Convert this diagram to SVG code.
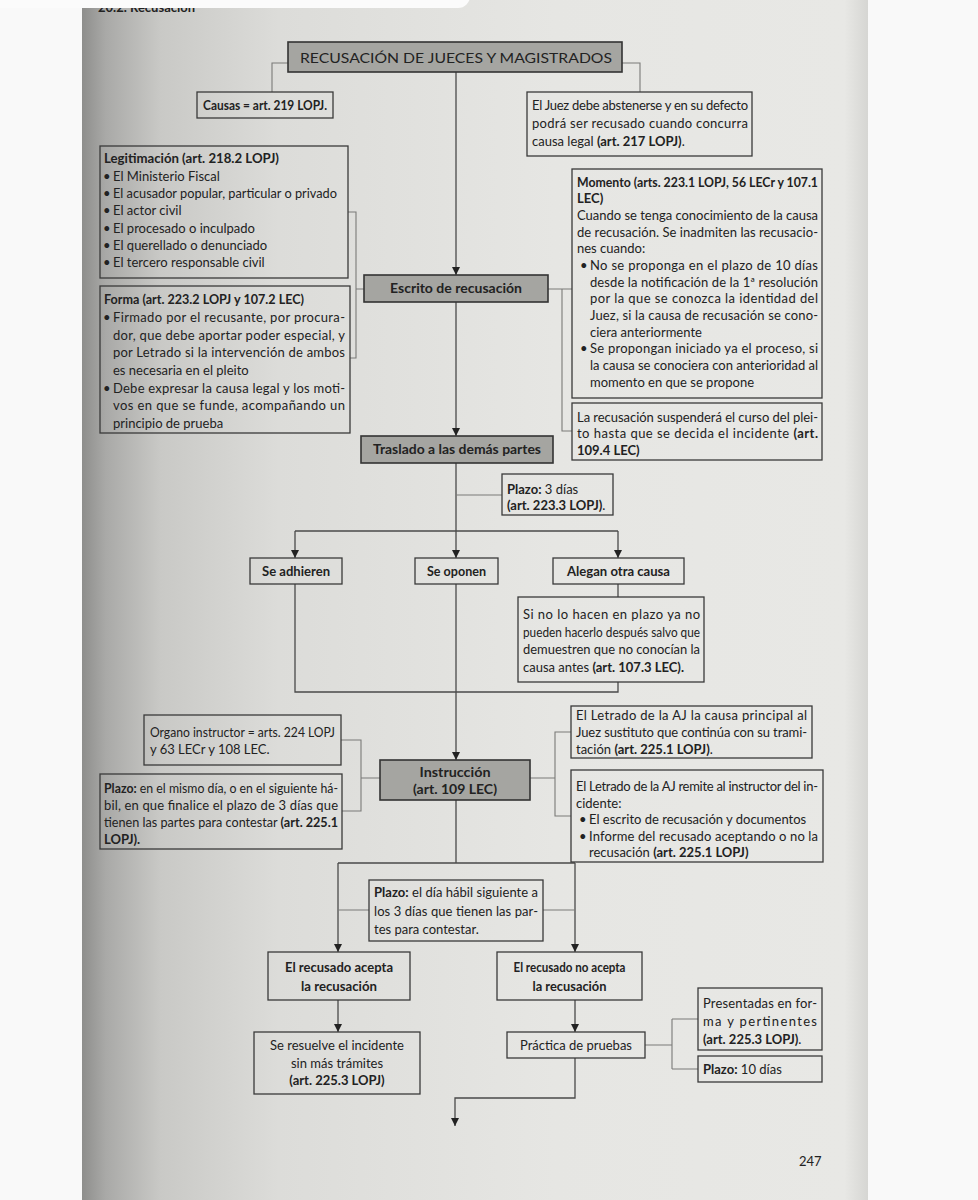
<svg xmlns="http://www.w3.org/2000/svg" width="978" height="1200" viewBox="0 0 978 1200">
<defs>
<linearGradient id="pg" x1="82" y1="0" x2="868" y2="0" gradientUnits="userSpaceOnUse">
<stop offset="0" stop-color="#8e8e8c"/>
<stop offset="0.03" stop-color="#a9a9a7"/>
<stop offset="0.1" stop-color="#c9c9c6"/>
<stop offset="0.25" stop-color="#dcdcd9"/>
<stop offset="0.6" stop-color="#e6e6e3"/>
<stop offset="0.97" stop-color="#e8e8e5"/>
<stop offset="1" stop-color="#d6d6d3"/>
</linearGradient>
<marker id="ah" viewBox="0 0 10 10" refX="10" refY="5" markerWidth="8" markerHeight="8" markerUnits="userSpaceOnUse" orient="auto">
<path d="M0,0 L10,5 L0,10 z" fill="#222"/>
</marker>
<style>
text{font-family:Lato,"Open Sans","DejaVu Sans",sans-serif;font-size:13px;fill:#222}
.b{font-weight:700}
.m{text-anchor:middle}
.bx{fill:none;stroke:#3a3a3a;stroke-width:1.3}
.gb{fill:#a5a5a1;stroke:#333;stroke-width:1.6}
.c{fill:none;stroke:#4a4a4a;stroke-width:1.3}
.cl{fill:none;stroke:#7a7a78;stroke-width:1.1}
.a{marker-end:url(#ah)}
</style>
</defs>

<rect x="0" y="0" width="978" height="1200" fill="#f9f9f9"/>
<rect x="82" y="0" width="786" height="1200" fill="url(#pg)"/>
<text x="98" y="12" class="b" font-size="13">20.2.   Recusación</text>
<rect x="-20" y="-20" width="490" height="28" rx="12" fill="#fbfbfb"/>

<g id="connectors">
<path class="c a" d="M456,72 V275"/>
<path class="cl" d="M288,63 H272 V92"/>
<path class="cl" d="M622,63 H640 V92"/>
<path class="cl" d="M348,212 H356 V358 H350 M356,289 H364"/>
<path class="cl" d="M548,289 H572 M562,289 V431 H572"/>
<path class="c a" d="M456,302 V436"/>
<path class="c a" d="M456,463 V558"/>
<path class="c" d="M295,531 H618"/>
<path class="c a" d="M295,531 V558"/>
<path class="c a" d="M618,531 V558"/>
<path class="cl" d="M456,495 H502"/>
<path class="c" d="M618,584 V597"/>
<path class="c" d="M618,682 V692 H295 V584"/>
<path class="c a" d="M456,584 V760"/>
<path class="cl" d="M341,740 H361 V811 H342 M361,778 H380"/>
<path class="cl" d="M530,778 H555 M571,732 H555 V816 H571"/>
<path class="c" d="M456,800 V863 M338,863 H575"/>
<path class="c a" d="M338,863 V952"/>
<path class="c a" d="M575,863 V952"/>
<path class="cl" d="M338,910 H369 M543,910 H575"/>
<path class="c a" d="M338,1000 V1032"/>
<path class="c a" d="M575,1000 V1032"/>
<path class="cl" d="M645,1045 H672 M672,1019 V1069 M672,1019 H698 M672,1069 H698"/>
<path class="c a" d="M575,1058 V1098 H455 V1126"/>
</g>

<g id="title">
<rect class="gb" x="288" y="42" width="334" height="30"/>
<text class="m" x="456" y="63" font-size="15.5" textLength="312" lengthAdjust="spacingAndGlyphs">RECUSACIÓN DE JUECES Y MAGISTRADOS</text>
</g>

<g id="causas">
<rect class="bx" x="197" y="92" width="136" height="26"/>
<text x="203" y="110" class="b" textLength="124" lengthAdjust="spacingAndGlyphs">Causas = art. 219 LOPJ.</text>
</g>

<g id="juez">
<rect class="bx" x="527" y="92" width="225" height="64"/>
<text x="532" y="110" textLength="216">El Juez debe abstenerse y en su defecto</text>
<text x="532" y="128" textLength="216">podrá ser recusado cuando concurra</text>
<text x="532" y="146">causa legal <tspan class="b">(art. 217 LOPJ)</tspan>.</text>
</g>

<g id="legitimacion">
<rect class="bx" x="100" y="146" width="248" height="132"/>
<text x="104" y="163" class="b" textLength="175" lengthAdjust="spacingAndGlyphs">Legitimación (art. 218.2 LOPJ)</text>
<text x="103" y="181">•</text><text x="113" y="181">El Ministerio Fiscal</text>
<text x="103" y="198">•</text><text x="113" y="198" textLength="224" lengthAdjust="spacingAndGlyphs">El acusador popular, particular o privado</text>
<text x="103" y="215">•</text><text x="113" y="215">El actor civil</text>
<text x="103" y="233">•</text><text x="113" y="233">El procesado o inculpado</text>
<text x="103" y="250">•</text><text x="113" y="250">El querellado o denunciado</text>
<text x="103" y="267">•</text><text x="113" y="267">El tercero responsable civil</text>
</g>

<g id="forma">
<rect class="bx" x="100" y="286" width="250" height="147"/>
<text x="104" y="304" class="b" textLength="200" lengthAdjust="spacingAndGlyphs">Forma (art. 223.2 LOPJ y 107.2 LEC)</text>
<text x="103" y="322">•</text><text x="113" y="322" textLength="232">Firmado por el recusante, por procura-</text>
<text x="113" y="339.5" textLength="232">dor, que debe aportar poder especial, y</text>
<text x="113" y="357" textLength="232">por Letrado si la intervención de ambos</text>
<text x="113" y="375">es necesaria en el pleito</text>
<text x="103" y="392.5">•</text><text x="113" y="392.5" textLength="232">Debe expresar la causa legal y los moti-</text>
<text x="113" y="410" textLength="232">vos en que se funde, acompañando un</text>
<text x="113" y="428">principio de prueba</text>
</g>

<g id="momento">
<rect class="bx" x="572" y="169" width="250" height="229"/>
<text x="577" y="186.5" class="b" textLength="241" lengthAdjust="spacingAndGlyphs">Momento (arts. 223.1 LOPJ, 56 LECr y 107.1</text>
<text x="577" y="203" class="b">LEC)</text>
<text x="577" y="220" textLength="241">Cuando se tenga conocimiento de la causa</text>
<text x="577" y="236.5" textLength="241">de recusación. Se inadmiten las recusacio-</text>
<text x="577" y="253">nes cuando:</text>
<text x="580" y="270">•</text><text x="590" y="270" textLength="228">No se proponga en el plazo de 10 días</text>
<text x="590" y="286.5" textLength="228">desde la notificación de la 1ª resolución</text>
<text x="590" y="303" textLength="228">por la que se conozca la identidad del</text>
<text x="590" y="320" textLength="228">Juez, si la causa de recusación se cono-</text>
<text x="590" y="336.5">ciera anteriormente</text>
<text x="580" y="353">•</text><text x="590" y="353" textLength="228">Se propongan iniciado ya el proceso, si</text>
<text x="590" y="370" textLength="228">la causa se conociera con anterioridad al</text>
<text x="590" y="386.5">momento en que se propone</text>
</g>

<g id="suspende">
<rect class="bx" x="572" y="403" width="250" height="57"/>
<text x="577" y="421.5" textLength="241">La recusación suspenderá el curso del plei-</text>
<text x="577" y="438" textLength="241">to hasta que se decida el incidente <tspan class="b">(art.</tspan></text>
<text x="577" y="454.5" class="b">109.4 LEC)</text>
</g>

<g id="escrito">
<rect class="gb" x="364" y="275" width="184" height="27"/>
<text class="m b" x="456" y="293" textLength="132" lengthAdjust="spacingAndGlyphs">Escrito de recusación</text>
</g>

<g id="traslado">
<rect class="gb" x="361" y="436" width="192" height="27"/>
<text class="m b" x="457" y="454" textLength="168" lengthAdjust="spacingAndGlyphs">Traslado a las demás partes</text>
</g>

<g id="plazo3">
<rect class="bx" x="502" y="474" width="111" height="41"/>
<text x="507" y="494"><tspan class="b">Plazo:</tspan> 3 días</text>
<text x="507" y="509.5"><tspan class="b">(art. 223.3 LOPJ)</tspan>.</text>
</g>

<g id="adhieren">
<rect class="bx" x="250" y="558" width="92" height="26"/>
<text class="m b" x="296" y="576" textLength="68" lengthAdjust="spacingAndGlyphs">Se adhieren</text>
</g>

<g id="oponen">
<rect class="bx" x="415" y="558" width="83" height="26"/>
<text class="m b" x="456.5" y="576" textLength="59" lengthAdjust="spacingAndGlyphs">Se oponen</text>
</g>

<g id="alegan">
<rect class="bx" x="553" y="558" width="131" height="26"/>
<text class="m b" x="618.5" y="576" textLength="103" lengthAdjust="spacingAndGlyphs">Alegan otra causa</text>
</g>

<g id="sino">
<rect class="bx" x="518" y="597" width="186" height="85"/>
<text x="523" y="619" textLength="177">Si no lo hacen en plazo ya no</text>
<text x="523" y="636.5" textLength="177" lengthAdjust="spacingAndGlyphs">pueden hacerlo después salvo que</text>
<text x="523" y="654" textLength="177" lengthAdjust="spacingAndGlyphs">demuestren que no conocían la</text>
<text x="523" y="671.5">causa antes <tspan class="b">(art. 107.3 LEC).</tspan></text>
</g>

<g id="organo">
<rect class="bx" x="144" y="715" width="197" height="50"/>
<text x="150" y="737" textLength="185" lengthAdjust="spacingAndGlyphs">Organo instructor = arts. 224 LOPJ</text>
<text x="150" y="754">y 63 LECr y 108 LEC.</text>
</g>

<g id="plazoinstr">
<rect class="bx" x="100" y="774" width="242" height="75"/>
<text x="104" y="793" textLength="234" lengthAdjust="spacingAndGlyphs"><tspan class="b">Plazo:</tspan> en el mismo día, o en el siguiente há-</text>
<text x="104" y="810" textLength="234">bil, en que finalice el plazo de 3 días que</text>
<text x="104" y="827" textLength="234" lengthAdjust="spacingAndGlyphs">tienen las partes para contestar <tspan class="b">(art. 225.1</tspan></text>
<text x="104" y="844" class="b">LOPJ).</text>
</g>

<g id="instruccion">
<rect class="gb" x="380" y="760" width="150" height="40"/>
<text class="m b" x="455" y="777" textLength="71" lengthAdjust="spacingAndGlyphs">Instrucción</text>
<text class="m b" x="455" y="794" textLength="84" lengthAdjust="spacingAndGlyphs">(art. 109 LEC)</text>
</g>

<g id="letrado1">
<rect class="bx" x="571" y="706" width="241" height="52"/>
<text x="576" y="720" textLength="231">El Letrado de la AJ la causa principal al</text>
<text x="576" y="737" textLength="231">Juez sustituto que continúa con su trami-</text>
<text x="576" y="754">tación <tspan class="b">(art. 225.1 LOPJ)</tspan>.</text>
</g>

<g id="letrado2">
<rect class="bx" x="571" y="770" width="252" height="92"/>
<text x="576" y="791" textLength="242">El Letrado de la AJ remite al instructor del in-</text>
<text x="576" y="807.5">cidente:</text>
<text x="579" y="824">•</text><text x="589" y="824">El escrito de recusación y documentos</text>
<text x="579" y="840.5">•</text><text x="589" y="840.5" textLength="229">Informe del recusado aceptando o no la</text>
<text x="589" y="857">recusación <tspan class="b">(art. 225.1 LOPJ)</tspan></text>
</g>

<g id="plazocontestar">
<rect class="bx" x="369" y="880" width="174" height="61"/>
<text x="374" y="897" textLength="164"><tspan class="b">Plazo:</tspan> el día hábil siguiente a</text>
<text x="374" y="915.5" textLength="164">los 3 días que tienen las par-</text>
<text x="374" y="934">tes para contestar.</text>
</g>

<g id="acepta">
<rect class="bx" x="268" y="952" width="142" height="48"/>
<text class="m b" x="339" y="972" textLength="108" lengthAdjust="spacingAndGlyphs">El recusado acepta</text>
<text class="m b" x="339" y="991" textLength="76" lengthAdjust="spacingAndGlyphs">la recusación</text>
</g>

<g id="noacepta">
<rect class="bx" x="497" y="952" width="145" height="48"/>
<text class="m b" x="569.5" y="972" textLength="112" lengthAdjust="spacingAndGlyphs">El recusado no acepta</text>
<text class="m b" x="569.5" y="991" textLength="74" lengthAdjust="spacingAndGlyphs">la recusación</text>
</g>

<g id="resuelve">
<rect class="bx" x="254" y="1032" width="166" height="62"/>
<text class="m" x="337" y="1049.5">Se resuelve el incidente</text>
<text class="m" x="337" y="1067.5">sin más trámites</text>
<text class="m b" x="337" y="1084.5">(art. 225.3 LOPJ)</text>
</g>

<g id="practica">
<rect class="bx" x="507" y="1032" width="138" height="26"/>
<text class="m" x="576" y="1049.5">Práctica de pruebas</text>
</g>

<g id="presentadas">
<rect class="bx" x="698" y="988" width="124" height="62"/>
<text x="703" y="1007.5" textLength="114">Presentadas en for-</text>
<text x="703" y="1026" textLength="114">ma y pertinentes</text>
<text x="703" y="1043.5"><tspan class="b">(art. 225.3 LOPJ)</tspan>.</text>
</g>

<g id="plazo10">
<rect class="bx" x="698" y="1056" width="124" height="26"/>
<text x="703" y="1074"><tspan class="b">Plazo:</tspan> 10 días</text>
</g>

<text x="799" y="1166" font-size="14">247</text>
</svg>
